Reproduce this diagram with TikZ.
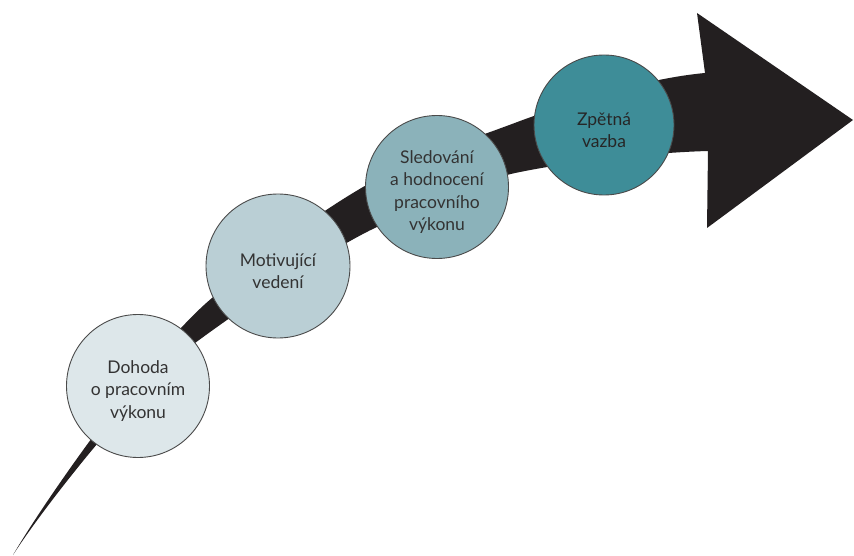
\documentclass[tikz,border=0pt]{standalone}
\usepackage{fontspec}
\setmainfont{Lato}
\definecolor{arrowblack}{HTML}{231F20}
\definecolor{cA}{HTML}{DDE7EA}
\definecolor{cB}{HTML}{BACFD5}
\definecolor{cC}{HTML}{8BB2BA}
\definecolor{cD}{HTML}{3E8D98}
\definecolor{ring}{HTML}{4A4A4A}
\definecolor{txt}{HTML}{333333}
\tikzset{
  stage/.style={circle, draw=ring, line width=0.9pt, inner sep=0pt},
  stagetext/.style={align=center, text=txt, yshift=-5pt, inner sep=0pt,
    font=\fontsize{17.5}{22.5}\selectfont},
}
\begin{document}
\begin{tikzpicture}[x=1pt,y=-1pt]
\useasboundingbox (0,0) rectangle (854,556);
% curved arrow
\fill[arrowblack]
  (13,555) .. controls (45,500) and (150,350) .. (212,298)
  .. controls (265,254) and (310,218) .. (363,187)
  .. controls (420,155) and (470,140) .. (520,121)
  .. controls (580,99) and (650,78) .. (705,73)
  -- (697,13) -- (853,120) -- (707,228) -- (708,151)
  .. controls (670,152) and (590,158) .. (520,172)
  .. controls (470,182) and (420,208) .. (377,227)
  .. controls (340,244) and (260,295) .. (195,343)
  .. controls (140,385) and (45,505) .. (13,555)
  -- cycle;
% stages
\node[stage, fill=cA, minimum size=143pt,
  label={[stagetext]center:Dohoda\\o pracovním\\výkonu}] (c1) at (138,386) {};
\node[stage, fill=cB, minimum size=144pt,
  label={[stagetext]center:Motivující\\vedení}] (c2) at (278,266) {};
\node[stage, fill=cC, minimum size=143pt,
  label={[stagetext]center:Sledování\\a hodnocení\\pracovního\\výkonu}] (c3) at (437,187) {};
\node[stage, fill=cD, minimum size=140pt,
  label={[stagetext, text=black!85]center:Zpětná\\vazba}] (c4) at (604,125) {};
\end{tikzpicture}
\end{document}
